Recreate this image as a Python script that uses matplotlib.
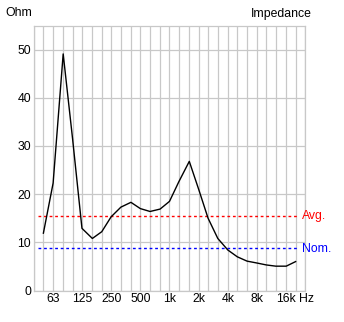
import matplotlib
matplotlib.use("Agg")
import matplotlib.pyplot as plt
from matplotlib.ticker import NullFormatter, NullLocator

plt.rcParams["font.family"] = ["Liberation Sans", "DejaVu Sans"]

# third-octave impedance readings
freqs = [50, 63, 80, 100, 125, 160, 200, 250, 315, 400, 500, 630, 800,
         1000, 1250, 1600, 2000, 2500, 3150, 4000, 5000, 6300, 8000,
         10000, 12500, 16000, 20000]
ohms = [11.9, 22.3, 49.1, 31.5, 12.9, 10.8, 12.2, 15.3, 17.3, 18.3, 17.0,
        16.4, 16.9, 18.5, 22.6, 26.8, 21.0, 15.0, 10.8, 8.4, 7.0, 6.1,
        5.7, 5.3, 5.05, 5.05, 6.0]

avg_ohm = 15.4
nom_ohm = 8.8
ref_span = [44, 21000]

grid_freqs = [40, 50, 63, 80, 100, 125, 160, 200, 250, 315, 400, 500, 630,
              800, 1000, 1250, 1600, 2000, 2500, 3150, 4000, 5000, 6300,
              8000, 10000, 12500, 16000, 20000, 25000]
tick_freqs = [63, 125, 250, 500, 1000, 2000, 4000, 8000, 16000]
tick_labels = ["63", "125", "250", "500", "1k", "2k", "4k", "8k", "16k"]
y_ticks = [0, 10, 20, 30, 40, 50]

W, H = 344, 322
FS = 8.8
fig = plt.figure(figsize=(W / 100, H / 100), dpi=100)
ax = fig.add_axes([34 / W, (H - 290.5) / H, 271 / W, 265 / H])

gc = "#c8c8c8"
ax.set_xscale("log")
ax.set_xlim(40, 25000)
ax.set_ylim(0, 55)
ax.xaxis.set_major_locator(NullLocator())
ax.xaxis.set_minor_locator(NullLocator())
ax.xaxis.set_minor_formatter(NullFormatter())

for f in grid_freqs:
    ax.axvline(f, color=gc, lw=0.9, zorder=0)
for v in y_ticks:
    ax.axhline(v, color=gc, lw=0.9, zorder=0)
for s in ax.spines.values():
    s.set_color(gc)
    s.set_linewidth(0.9)

ax.set_yticks(y_ticks)
ax.tick_params(length=0, labelsize=FS, pad=2)

# frequency labels sit just under the zero line
for f, lab in zip(tick_freqs, tick_labels):
    ax.text(f, -1.8, lab, ha="center", va="center", fontsize=FS)

ax.plot(ref_span, [avg_ohm, avg_ohm], color="#ff0000", lw=1.0,
        dashes=(2, 2))
ax.plot(ref_span, [nom_ohm, nom_ohm], color="#0000ff", lw=1.0,
        dashes=(2, 2))
ax.plot(freqs, ohms, color="black", lw=1.0)

fig.text(5 / W, 1 - 13.5 / H, "Ohm", fontsize=FS, va="center", ha="left")
fig.text(312 / W, 1 - 13.5 / H, "Impedance", fontsize=FS, va="center",
         ha="right")
fig.text(302 / W, 1 - 216.5 / H, "Avg.", fontsize=FS, va="center",
         ha="left", color="#ff0000")
fig.text(302 / W, 1 - 248.5 / H, "Nom.", fontsize=FS, va="center",
         ha="left", color="#0000ff")
fig.text(299 / W, 1 - 299 / H, "Hz", fontsize=FS, va="center", ha="left")

fig.savefig("out.png", dpi=100)
